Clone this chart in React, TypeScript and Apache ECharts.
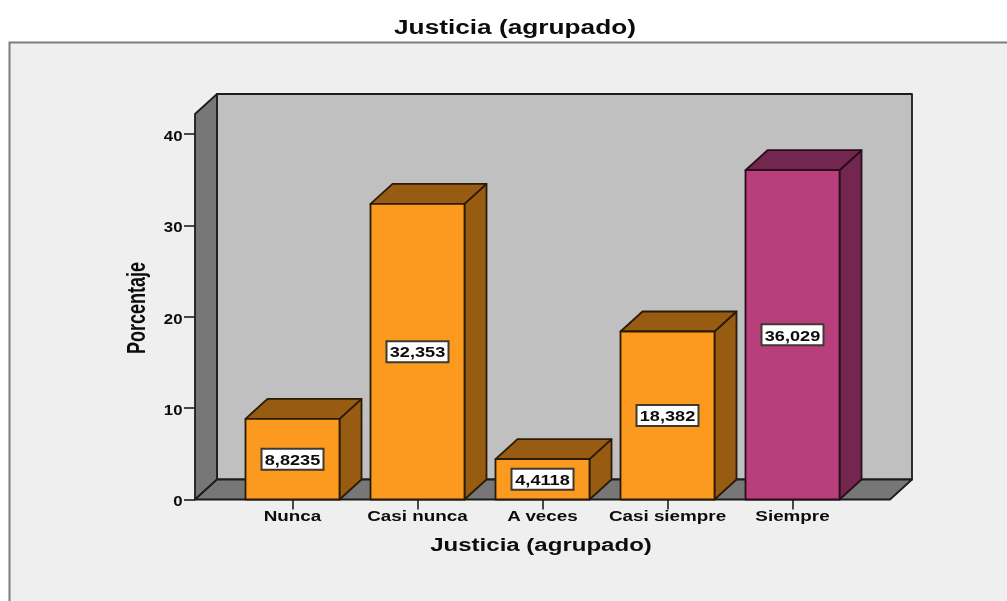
import React, { useEffect, useRef } from "react";
import * as echarts from "echarts";

const categories = ["Nunca", "Casi nunca", "A veces", "Casi siempre", "Siempre"];
const percentages = [8.8235, 32.353, 4.4118, 18.382, 36.029];
const valueLabels = ["8,8235", "32,353", "4,4118", "18,382", "36,029"];
const yTicks = [0, 10, 20, 30, 40];
const chartTitle = "Justicia (agrupado)";
const yAxisName = "Porcentaje";

const DX = 22;
const DY = 20;
const WALL_MARGIN = 35;
const BAR_W = 94;
const OUTLINE = "#1c1c1c";
const FONT = "'Liberation Sans'";
const INK = "#0c0c0c";
const paint = (i: number) =>
  i === 4
    ? { front: "#B93E7C", shade: "#73274F", edge: "#2a0d1c" }
    : { front: "#FB9A1E", shade: "#975C11", edge: "#2a1a08" };

const poly = (points: number[][], fill: string, stroke: string, lineWidth = 1.8) => ({
  type: "polygon",
  shape: { points },
  style: { fill, stroke, lineWidth, lineJoin: "round" },
});

const label = (text: string, x: number, y: number, size: number, scaleX: number, align = "center", rotation = 0) => ({
  type: "text",
  x,
  y,
  scaleX,
  rotation,
  style: { text, fill: INK, align, verticalAlign: "middle", font: `bold ${size}px ${FONT}` },
});

const renderWalls = (params: any, api: any) => {
  const c = params.coordSys;
  const l = c.x - WALL_MARGIN;
  const r = c.x + c.width + WALL_MARGIN;
  const t = c.y;
  const b = c.y + c.height;
  return {
    type: "group",
    children: [
      poly([[l + DX, t - DY], [r + DX, t - DY], [r + DX, b - DY], [l + DX, b - DY]], "#C0C0C0", OUTLINE),
      poly([[l, t], [l + DX, t - DY], [l + DX, b - DY], [l, b]], "#777777", OUTLINE),
      poly([[l, b], [l + DX, b - DY], [r + DX, b - DY], [r, b]], "#777777", OUTLINE),
      ...yTicks.map((v) => label(String(v), l - 12.5, api.coord([0, v])[1] + 2, 14, 1.2, "right")),
    ],
  };
};

const renderBar = (params: any, api: any) => {
  const i = api.value(0);
  const v = api.value(1);
  const [cx, top] = api.coord([i, v]);
  const [, base] = api.coord([i, 0]);
  const [, mid] = api.coord([i, v / 2]);
  const l = cx - BAR_W / 2;
  const r = cx + BAR_W / 2;
  const p = paint(i);
  const boxW = 62;
  const boxH = 21;
  return {
    type: "group",
    children: [
      poly([[r, top], [r + DX, top - DY], [r + DX, base - DY], [r, base]], p.shade, p.edge),
      poly([[l, top], [l + DX, top - DY], [r + DX, top - DY], [r, top]], p.shade, p.edge),
      poly([[l, top], [r, top], [r, base], [l, base]], p.front, p.edge),
      {
        type: "rect",
        shape: { x: cx - boxW / 2, y: mid - boxH / 2, width: boxW, height: boxH },
        style: { fill: "#ffffff", stroke: "#3e3a30", lineWidth: 2 },
      },
      label(valueLabels[i], cx, mid + 0.5, 14.5, 1.25),
      label(categories[i], cx, base + 17, 14.5, 1.3),
    ],
  };
};

export default function App() {
  const ref = useRef<HTMLDivElement>(null);
  useEffect(() => {
    document.body.style.margin = "0";
    const chart = echarts.init(ref.current!, undefined, { renderer: "svg" });
    chart.setOption({
      animation: false,
      backgroundColor: "#ffffff",
      graphic: [
        {
          type: "rect",
          z: -1,
          shape: { x: 9.5, y: 42.5, width: 1100, height: 700 },
          style: { fill: "#EFEFEF", stroke: "#7d7d7d", lineWidth: 2 },
        },
        label(chartTitle, 515, 27, 19.5, 1.346),
        label(chartTitle, 541, 545, 18.5, 1.3),
        label(yAxisName, 136, 308, 25, 0.72, "center", Math.PI / 2),
      ],
      grid: { left: 230, top: 114, width: 625, height: 385.5 },
      xAxis: {
        type: "category",
        data: categories,
        axisLine: { show: false },
        axisTick: { show: true, alignWithLabel: true, length: 10, lineStyle: { color: "#111111", width: 1.5 } },
        axisLabel: { show: false },
      },
      yAxis: {
        type: "value",
        min: 0,
        max: 42.18,
        offset: WALL_MARGIN,
        axisLine: { show: false },
        axisTick: { show: true, length: 11, customValues: yTicks, lineStyle: { color: "#111111", width: 1.5 } },
        axisLabel: { show: false },
        splitLine: { show: false },
      },
      series: [
        { type: "custom", coordinateSystem: "cartesian2d", z: 1, silent: true, clip: false, data: [[0, 0]], renderItem: renderWalls },
        {
          type: "custom",
          coordinateSystem: "cartesian2d",
          z: 2,
          silent: true,
          clip: false,
          encode: { x: 0, y: 1 },
          data: percentages.map((v, i) => [i, v]),
          renderItem: renderBar,
        },
      ],
    });
    return () => chart.dispose();
  }, []);
  return <div ref={ref} style={{ position: "fixed", left: 0, top: 0, width: 1007, height: 601, filter: "blur(0.4px)" }} />;
}
